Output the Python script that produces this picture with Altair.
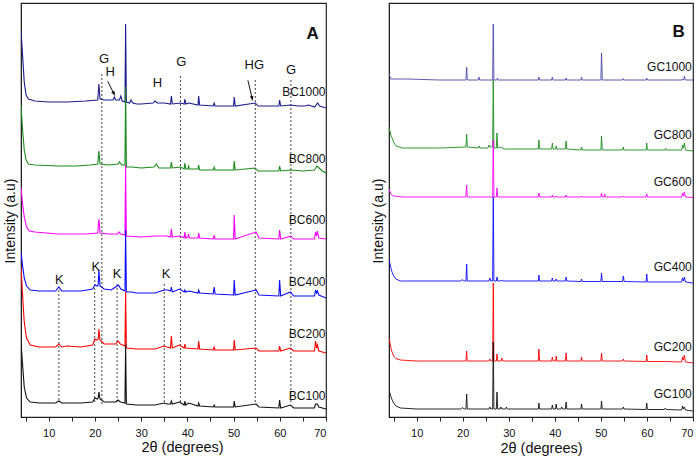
import altair as alt
import pandas as pd

FONT = "Liberation Sans"
TT_DOMAIN = [4, 70]
I_DOMAIN = [0, 414]
PANEL_H = 414

# ---------------- Panel A: BC series, [2θ, intensity (a.u., offset)] ----------------
bc1000 = [[4.0,387],[4.3,365],[4.7,335],[5.1,322],[5.6,318],[7,316],[10,315],[14,315],[18,316],
          [20.6,317],[20.86,333],[21.1,318],[22,317],[23.9,317],[24.2,320],[24.5,317],[25.3,317],
          [25.6,321],[25.9,316],[26.5,315],[26.64,393],[26.8,315],[27.5,314],[27.8,317],[28.2,314],
          [29,313],[30,313],[32.6,314],[33.0,316],[33.5,314],[35,314],[36.35,313],[36.54,321],
          [36.75,313],[38.5,314],[39.3,313],[39.47,318],[39.65,313],[40.3,314],[42.3,312],[42.45,321],
          [42.65,312],[45.6,311],[45.8,314],[46.0,311],[50.0,311],[50.14,320],[50.35,311],[54.7,314],
          [55.3,311],[59.8,311],[59.96,317],[60.2,311],[62.3,312],[64,311],[65.5,311],[66.2,312],
          [67.5,310],[68.2,314],[68.6,311],[70,309]]
bc800 = [[4.0,312],[4.3,290],[4.7,267],[5.1,257],[5.6,253],[7,252],[12,251],[16,251],[19,252],
         [20.6,253],[20.86,266],[21.1,253],[23,252],[25.0,253],[25.3,255],[25.8,252],[26.5,252],
         [26.64,330],[26.8,250],[28,250],[30,249],[32.8,250],[33.3,253],[33.8,249],[36.35,249],
         [36.54,255],[36.75,249],[38.5,250],[39.3,248],[39.47,254],[39.65,248],[40.1,248],[40.25,251],
         [40.45,248],[42.3,248],[42.45,252],[42.65,247],[45.6,247],[45.8,250],[46.0,247],[50.0,247],
         [50.14,256],[50.35,247],[54.7,249],[55.3,246],[59.8,246],[59.96,251],[60.2,246],[62.3,247],
         [65,246],[67.5,247],[68.0,251],[68.5,249],[69.2,246],[70,244]]
bc600 = [[4.0,230],[4.3,215],[4.7,200],[5.2,190],[5.8,186],[7,185],[12,183],[18,183],[20.6,184],
         [20.86,198],[21.1,184],[23,183],[24.9,183],[25.2,185],[25.6,183],[26.5,182],[26.64,252],
         [26.8,181],[30,180],[33,181],[35.5,181],[36.35,180],[36.54,188],[36.75,180],[38.5,181],
         [39.3,179],[39.47,185],[39.65,179],[40.1,180],[40.25,183],[40.45,179],[42.3,179],[42.45,184],
         [42.65,179],[45.6,178],[45.8,182],[46.0,178],[50.0,178],[50.14,202],[50.35,178],[54.87,185],
         [55.5,179],[59.8,178],[59.96,187],[60.2,178],[62.4,181],[63,178],[67.5,178],[67.74,185],
         [67.95,181],[68.14,186],[68.45,179],[70,178]]
bc400 = [[4.0,165],[4.3,153],[4.7,139],[5.2,131],[6,127],[8,126],[11.5,126],[12.2,130],[12.8,126],
         [14,126],[17,126],[19.5,128],[20.0,132],[20.5,131],[20.7,132],[20.86,147],[21.1,131],[22,128],
         [23.5,127],[24.8,131],[25.1,132],[25.6,128],[26.5,126],[26.64,187],[26.8,125],[28,125],
         [29,124],[33,124],[35,127],[35.8,127],[36.35,126],[36.54,130],[36.75,125],[38.3,128],
         [39.3,125],[39.47,127],[39.65,125],[40.3,126],[42.3,124],[42.45,127],[42.65,124],[45.6,123],
         [45.8,130],[46.0,123],[50.0,122],[50.14,137],[50.35,122],[54.87,127],[55.5,122],[59.8,121],
         [59.96,137],[60.2,121],[62.3,125],[63,121],[67.5,121],[67.74,127],[67.95,124],[68.14,126],
         [68.45,122],[70,119]]
bc200 = [[4.0,150],[4.3,125],[4.7,95],[5.2,79],[6,72],[8,70],[11.5,70],[12.2,73],[12.8,70],[14,71],
         [17,70],[19.5,72],[20.0,78],[20.5,77],[20.7,78],[20.86,88],[21.1,77],[22,73],[24.5,73],
         [25.0,76],[25.5,73],[26.5,71],[26.64,125],[26.8,69],[29,68],[33,68],[35,71],[35.6,70],
         [36.35,69],[36.54,81],[36.75,69],[38.3,72],[39.3,69],[39.47,73],[39.65,69],[42.3,68],
         [42.45,76],[42.65,68],[45.6,67],[45.8,70],[46.0,67],[50.0,67],[50.14,77],[50.35,67],
         [54.87,69],[55.5,66],[59.8,66],[59.96,71],[60.2,66],[62.3,69],[63,66],[67.5,66],[67.74,76],
         [67.95,69],[68.14,72],[68.45,66],[70,64]]
bc100 = [[4.0,75],[4.3,55],[4.7,30],[5.2,19],[6,15],[8,14],[11.5,14],[12.2,16],[12.8,14],[17,14],
         [19.5,15],[20.0,19],[20.5,18],[20.7,19],[20.86,25],[21.1,18],[22,15],[24.5,15],[25.0,17],
         [25.5,15],[26.5,14],[26.64,72],[26.8,13],[29,12],[33,12],[35,14],[35.6,13],[36.35,13],
         [36.54,16],[36.75,13],[38.3,15],[39.3,12],[39.47,16],[39.65,12],[40.3,14],[42.3,11],
         [42.45,14],[42.65,11],[45.6,10],[45.8,12],[46.0,10],[50.0,10],[50.14,16],[50.35,10],
         [54.87,13],[55.5,10],[59.8,9],[59.96,17],[60.2,9],[62.3,12],[63,9],[65,9],[67.5,9],
         [67.74,13],[68.14,13],[68.45,10],[70,8]]

bc_names = ["BC1000", "BC800", "BC600", "BC400", "BC200", "BC100"]
bc_traces = [bc1000, bc800, bc600, bc400, bc200, bc100]
bc_label_I = [325, 258, 197, 135, 83, 21]

# reference lines: [2θ, lower end, upper end]
ref_lines = [[12.2, 17, 127], [19.95, 15, 145], [21.5, 13, 345], [24.8, 15, 135],
             [35.0, 15, 135], [38.5, 15, 342], [54.7, 15, 337], [62.4, 15, 337]]
# phase letters: [text, 2θ, intensity]
phase_marks = [["G", 21.97, 358], ["H", 23.3, 345], ["H", 33.55, 334], ["G", 38.7, 355],
               ["HG", 54.5, 351.7], ["G", 62.45, 346.7], ["K", 12.3, 136.7], ["K", 20.2, 150],
               ["K", 24.8, 142.7], ["K", 35.4, 142.7]]
# arrows: [2θ tail, I tail, 2θ head, I head, head angle]
arrows = [[22.77, 335.7, 24.11, 323.2, 333.6], [53.1, 336.7, 54.03, 318.4, 346.8]]

# ---------------- Panel B: GC series ----------------
gc1000 = [[4.0,343],[4.4,338],[8,338],[15,337],[20.7,337],[20.86,350],[21.0,337],[23.4,337],
          [23.55,340],[23.7,337],[26.5,337],[26.64,393],[26.78,337],[27.4,337],[27.55,339],
          [27.7,337],[36.4,337],[36.54,340],[36.7,337],[39.3,337],[39.47,340],[39.6,337],[42.3,337],
          [42.45,339],[42.6,337],[45.65,337],[45.8,340],[45.95,337],[50.0,337],[50.14,364],[50.3,337],
          [54.7,337],[54.87,338.5],[55.0,337],[59.8,337],[59.96,339],[60.1,337],[64,337],[67.6,337],
          [67.74,338],[67.9,337],[68.0,337],[68.14,341],[68.3,337],[70,337]]
gc800 = [[4.0,290],[4.4,282],[5.0,275],[5.5,271],[7,269],[15,269],[20.7,270],[20.86,283],[21.0,270],
         [23.45,269],[23.6,271],[23.75,269],[25.5,269],[25.7,272],[25.9,270],[26.5,270],[26.64,337],
         [26.78,269],[27.3,269],[27.45,284],[27.6,269],[28.2,270],[29,268],[36.4,268],[36.54,277],
         [36.7,268],[39.3,268],[39.47,274],[39.6,268],[40.15,268],[40.3,271],[40.45,268],[42.3,268],
         [42.45,276],[42.6,268],[45.65,267],[45.8,270],[45.95,267],[50.0,267],[50.14,281],[50.3,267],
         [54.7,267],[54.87,270],[55.0,267],[59.8,267],[59.96,274],[60.1,267],[63.9,267],[64.05,268.5],
         [64.2,267],[67.55,267],[67.74,272],[67.9,269],[68.14,274],[68.35,267],[70,266]]
gc600 = [[4.0,228],[4.4,223],[5.0,221],[7,220],[20.7,220],[20.86,232],[21.0,220],[26.5,220],
         [26.64,277],[26.78,220],[27.3,220],[27.45,229],[27.6,220],[36.4,220],[36.54,224],[36.7,220],
         [39.3,220],[39.47,222],[39.6,220],[40.15,220],[40.3,221],[40.45,220],[42.3,220],[42.45,222],
         [42.6,220],[45.65,220],[45.8,221],[45.95,220],[50.0,220],[50.14,224],[50.3,220],[50.7,220],
         [50.85,223],[51.0,220],[54.7,220],[54.87,221],[55.0,220],[59.8,220],[59.96,223],[60.1,220],
         [67.55,220],[67.74,224],[67.9,221],[68.14,225],[68.35,220],[70,219.5]]
gc400 = [[4.0,158],[4.5,147],[5.0,141],[5.5,138],[6.5,136],[19.6,136],[19.9,137.5],[20.2,136],
         [20.7,136],[20.86,153],[21.0,136],[25.7,136],[25.9,139],[26.1,136],[26.5,136],[26.64,220],
         [26.78,136],[27.3,136],[27.45,140],[27.6,136],[28.3,136],[28.5,137],[28.7,136],[36.4,136],
         [36.54,142],[36.7,136],[39.3,136],[39.47,139],[39.6,136],[40.15,136],[40.3,138],[40.45,136],
         [42.3,136],[42.45,140],[42.6,136],[45.65,135.5],[45.8,138],[45.95,135.5],[50.0,135.5],
         [50.14,144],[50.3,135.5],[54.7,135.5],[54.87,141],[55.05,135.5],[59.8,135],[59.96,143],
         [60.1,135],[67.55,135],[67.74,139],[67.9,136],[68.14,140],[68.35,135],[70,134]]
gc200 = [[4.0,79],[4.5,67],[5.0,61],[5.5,58.5],[6.5,57],[10,56],[20.7,56],[20.86,66],[21.0,56],
         [25.7,56],[25.9,58],[26.1,56],[26.5,56],[26.64,134],[26.78,56],[27.3,56],[27.45,63],[27.6,56],
         [28.3,56],[28.5,59],[28.7,56],[36.4,56],[36.54,68],[36.7,56],[39.3,56],[39.47,60],[39.6,56],
         [40.15,56],[40.3,61],[40.45,56],[42.3,56],[42.45,64],[42.6,56],[45.65,56],[45.8,60],
         [45.95,56],[50.0,56],[50.14,64],[50.3,56],[54.7,56],[54.87,58],[55.05,56],[59.8,55.5],
         [59.96,62],[60.1,55.5],[64,55.5],[67.55,55],[67.74,60],[67.9,57],[68.14,62],[68.35,55],[70,54]]
gc100 = [[4.0,27],[4.5,19],[5.0,14],[5.5,11],[6.5,9],[10,8],[19.6,8],[19.9,9.5],[20.3,8],[20.7,8],
         [20.86,23],[21.0,8],[25.7,8],[25.9,10],[26.1,8],[26.5,8],[26.64,75],[26.78,8],[27.3,8],
         [27.45,25],[27.6,8],[28.1,8],[28.3,10],[28.5,8],[29.3,8],[29.5,10],[29.7,8],[36.4,8],
         [36.54,14],[36.7,8],[39.3,8],[39.47,12],[39.6,8],[40.15,8],[40.3,13],[40.45,8],[41.3,8],
         [41.5,10],[41.7,8],[42.3,8],[42.45,15],[42.6,8],[45.65,8],[45.8,13],[45.95,8],[50.0,8],
         [50.14,16],[50.3,8],[54.7,8],[54.87,10],[55.05,8],[59.8,7.5],[59.96,14],[60.1,7.5],
         [63.8,7.5],[64,9],[64.2,7.5],[67.55,7],[67.74,11],[67.9,8],[68.14,10],[68.35,7],[70,6]]

gc_names = ["GC1000", "GC800", "GC600", "GC400", "GC200", "GC100"]
gc_traces = [gc1000, gc800, gc600, gc400, gc200, gc100]
gc_label_I = [350, 282, 235, 150, 70, 22.7]

bc_colors = ["#1c1c8e", "#1b8c1b", "#ff00ff", "#0a0aff", "#ff0000", "#111111"]
gc_colors = ["#4848a8", "#1b8c1b", "#ff00ff", "#0a0aff", "#ff0000", "#111111"]

ARROW_HEAD = "M-0.7,-1L0.7,-1L0,1Z"


def x_axis(title_x, title_y):
    kw = dict(title="2θ (degrees)", values=list(range(5, 71, 5)),
              labelExpr="datum.value % 10 === 0 ? datum.label : ''",
              tickSize=4, tickColor="#222", domainColor="#222", labelOverlap=False,
              labelFont=FONT, labelFontSize=11, labelColor="#111", labelPadding=6,
              titleFont=FONT, titleFontSize=14.5, titleFontWeight="normal", titleColor="#111",
              titleY=title_y, titleBaseline="alphabetic", grid=False)
    if title_x is not None:
        kw["titleX"] = title_x
    return alt.Axis(**kw)


def y_axis():
    return alt.Axis(title="Intensity (a.u)", labels=False, ticks=False, grid=False,
                    domainColor="#222", titleFont=FONT, titleFontSize=14,
                    titleFontWeight="normal", titleColor="#111", titlePadding=4, titleY=217.5)


def panel(traces, names, colors, label_I, label_tt, letter, letter_tt, letter_I,
          width, title_x, title_y, stroke_w, lines=None, marks=None, arrow_list=None):
    xs = alt.Scale(domain=TT_DOMAIN, nice=False, zero=False)
    ys = alt.Scale(domain=I_DOMAIN, nice=False, zero=False)
    X = alt.X("tt:Q", scale=xs, axis=x_axis(title_x, title_y))
    Y = alt.Y("I:Q", scale=ys, axis=y_axis())

    layers = []
    if lines is not None:
        ldf = pd.DataFrame(lines, columns=["tt", "I", "I2"])
        layers.append(alt.Chart(ldf).mark_rule(strokeDash=[2, 2], color="#444", strokeWidth=1)
                      .encode(x=X, y=Y, y2="I2:Q"))
    for pts, c in zip(traces, colors):
        df = pd.DataFrame(pts, columns=["tt", "I"])
        layers.append(alt.Chart(df).mark_line(color=c, strokeWidth=stroke_w, clip=True)
                      .encode(x=X, y=Y, order="tt:Q"))
    lab = pd.DataFrame({"tt": [label_tt] * len(names), "I": label_I, "label": names})
    layers.append(alt.Chart(lab).mark_text(align="right", baseline="middle", font=FONT,
                                           fontSize=12, color="#111")
                  .encode(x=X, y=Y, text="label:N"))
    if marks is not None:
        mdf = pd.DataFrame(marks, columns=["label", "tt", "I"])
        layers.append(alt.Chart(mdf).mark_text(align="center", baseline="middle", font=FONT,
                                               fontSize=13, color="#111")
                      .encode(x=X, y=Y, text="label:N"))
    if arrow_list is not None:
        adf = pd.DataFrame(arrow_list, columns=["tt", "I", "tt2", "I2", "ang"])
        layers.append(alt.Chart(adf).mark_rule(color="#111", strokeWidth=1)
                      .encode(x=X, y=Y, x2="tt2:Q", y2="I2:Q"))
        hdf = adf[["tt2", "I2", "ang"]].rename(columns={"tt2": "tt", "I2": "I"})
        layers.append(alt.Chart(hdf).mark_point(shape=ARROW_HEAD, filled=True, size=25,
                                                color="#111", opacity=1, strokeWidth=0)
                      .encode(x=X, y=Y, angle=alt.Angle("ang:Q", scale=None)))
    ldf2 = pd.DataFrame({"tt": [letter_tt], "I": [letter_I], "label": [letter]})
    layers.append(alt.Chart(ldf2).mark_text(align="center", baseline="middle", font=FONT,
                                            fontSize=17, fontWeight="bold", color="#111")
                  .encode(x=X, y=Y, text="label:N"))
    return alt.layer(*layers).properties(width=width, height=PANEL_H)


# x-axis title offsets are measured from the axis line at the bottom of each panel
panel_a = panel(bc_traces, bc_names, bc_colors, bc_label_I, 69.9, "A", 67.1, 383.3,
                305, 161, 34, 1.1, lines=ref_lines, marks=phase_marks, arrow_list=arrows)
panel_b = panel(gc_traces, gc_names, gc_colors, gc_label_I, 69.74, "B", 66.9, 385,
                304, None, 35, 0.9)

chart = (alt.hconcat(panel_a, panel_b, spacing=42)
         .properties(padding={"left": 2, "top": 2, "right": 0, "bottom": 0}, background="white")
         .configure_view(stroke="#222", strokeWidth=1.2))

chart.save("out.html", embed_options={"renderer": "svg", "actions": False})
